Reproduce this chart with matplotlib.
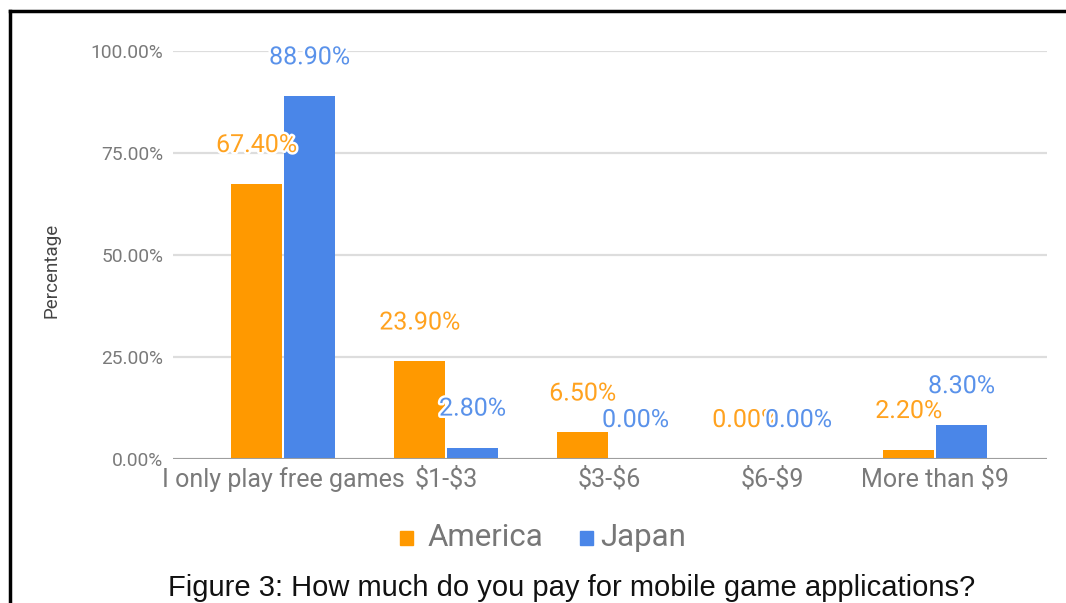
import matplotlib
matplotlib.use("Agg")
import matplotlib.pyplot as plt
import matplotlib.patheffects as pe
from matplotlib.lines import Line2D
from matplotlib.patches import Rectangle
import numpy as np

# Survey data: spending on mobile game applications
categories = ["I only play free games", "\\$1-\\$3", "\\$3-\\$6", "\\$6-\\$9", "More than \\$9"]
america = [67.4, 23.9, 6.5, 0.0, 2.2]
japan = [88.9, 2.8, 0.0, 0.0, 8.3]
yticks = [0, 25, 50, 75, 100]
series_names = ["America", "Japan"]

ORANGE = "#FF9900"
BLUE = "#4A86E8"
GRID = "#DDDDDD"
TICK = "#7A7A7A"

W, H = 1066, 603
fig = plt.figure(figsize=(W / 100, H / 100), dpi=100)

# plot area in pixel coordinates
left, right, bottom, top = 173, 1047, 459, 51
ax = fig.add_axes([left / W, 1 - bottom / H, (right - left) / W, (bottom - top) / H])

x = np.arange(len(categories))
bw = 0.31
off = 0.162
ax.bar(x - off, america, width=bw, color=ORANGE, zorder=3)
ax.bar(x + off, japan, width=bw, color=BLUE, zorder=3)

ax.set_xlim(-0.675, 4.687)
ax.set_ylim(0, 100)
ax.set_yticks(yticks)
ax.set_yticklabels([f"{v:.2f}%" for v in yticks], fontsize=13.8, color=TICK,
                   family="Roboto")
ax.set_xticks(x)
ax.set_xticklabels(categories, fontsize=18, color=TICK, family="Roboto")
ax.tick_params(axis="both", length=0)
ax.tick_params(axis="y", pad=7)
ax.tick_params(axis="x", pad=6)
ax.grid(axis="y", color=GRID, lw=1.6, zorder=0)
for s in ax.spines.values():
    s.set_visible(False)
ax.axhline(0, color="#9E9E9E", lw=2.2, zorder=4)

halo = [pe.withStroke(linewidth=3.5, foreground="white")]
for xi, v in zip(x, america):
    ax.annotate(f"{v:.2f}%", (xi - off, v), xytext=(0, 39), textcoords="offset pixels",
                ha="center", va="center", fontsize=18, color="#FFA21F",
                family="Roboto", path_effects=halo, zorder=6)
for xi, v in zip(x, japan):
    ax.annotate(f"{v:.2f}%", (xi + off, v), xytext=(0, 39), textcoords="offset pixels",
                ha="center", va="center", fontsize=18, color="#5A92EA",
                family="Roboto", path_effects=halo, zorder=6)

fig.text(52 / W, 1 - 270 / H, "Percentage", rotation=90, ha="center", va="center",
         fontsize=13.5, color="#444444", family="Roboto")

# legend: colour swatch followed by series name
legend_items = [(400, 428, ORANGE), (580, 600, BLUE)]
for (sx, tx, col), name in zip(legend_items, series_names):
    fig.add_artist(Rectangle((sx / W, 1 - 545 / H), 13 / W, 14 / H, color=col,
                             transform=fig.transFigure))
    fig.text(tx / W, 1 - 538 / H, name, ha="left", va="center", fontsize=22.5,
             color="#777777", family="Roboto")

fig.text(572 / W, 1 - 588 / H, "Figure 3: How much do you pay for mobile game applications?",
         ha="center", va="center", fontsize=21, color="#111111", family="Liberation Sans")

# page border on top and left
fig.add_artist(Line2D([9.5 / W, 1], [1 - 10.5 / H, 1 - 10.5 / H], color="black", lw=2.5,
                      transform=fig.transFigure))
fig.add_artist(Line2D([9.5 / W, 9.5 / W], [0, 1 - 10.5 / H], color="black", lw=2.5,
                      transform=fig.transFigure))

fig.savefig("out.png", dpi=100, facecolor="white")
